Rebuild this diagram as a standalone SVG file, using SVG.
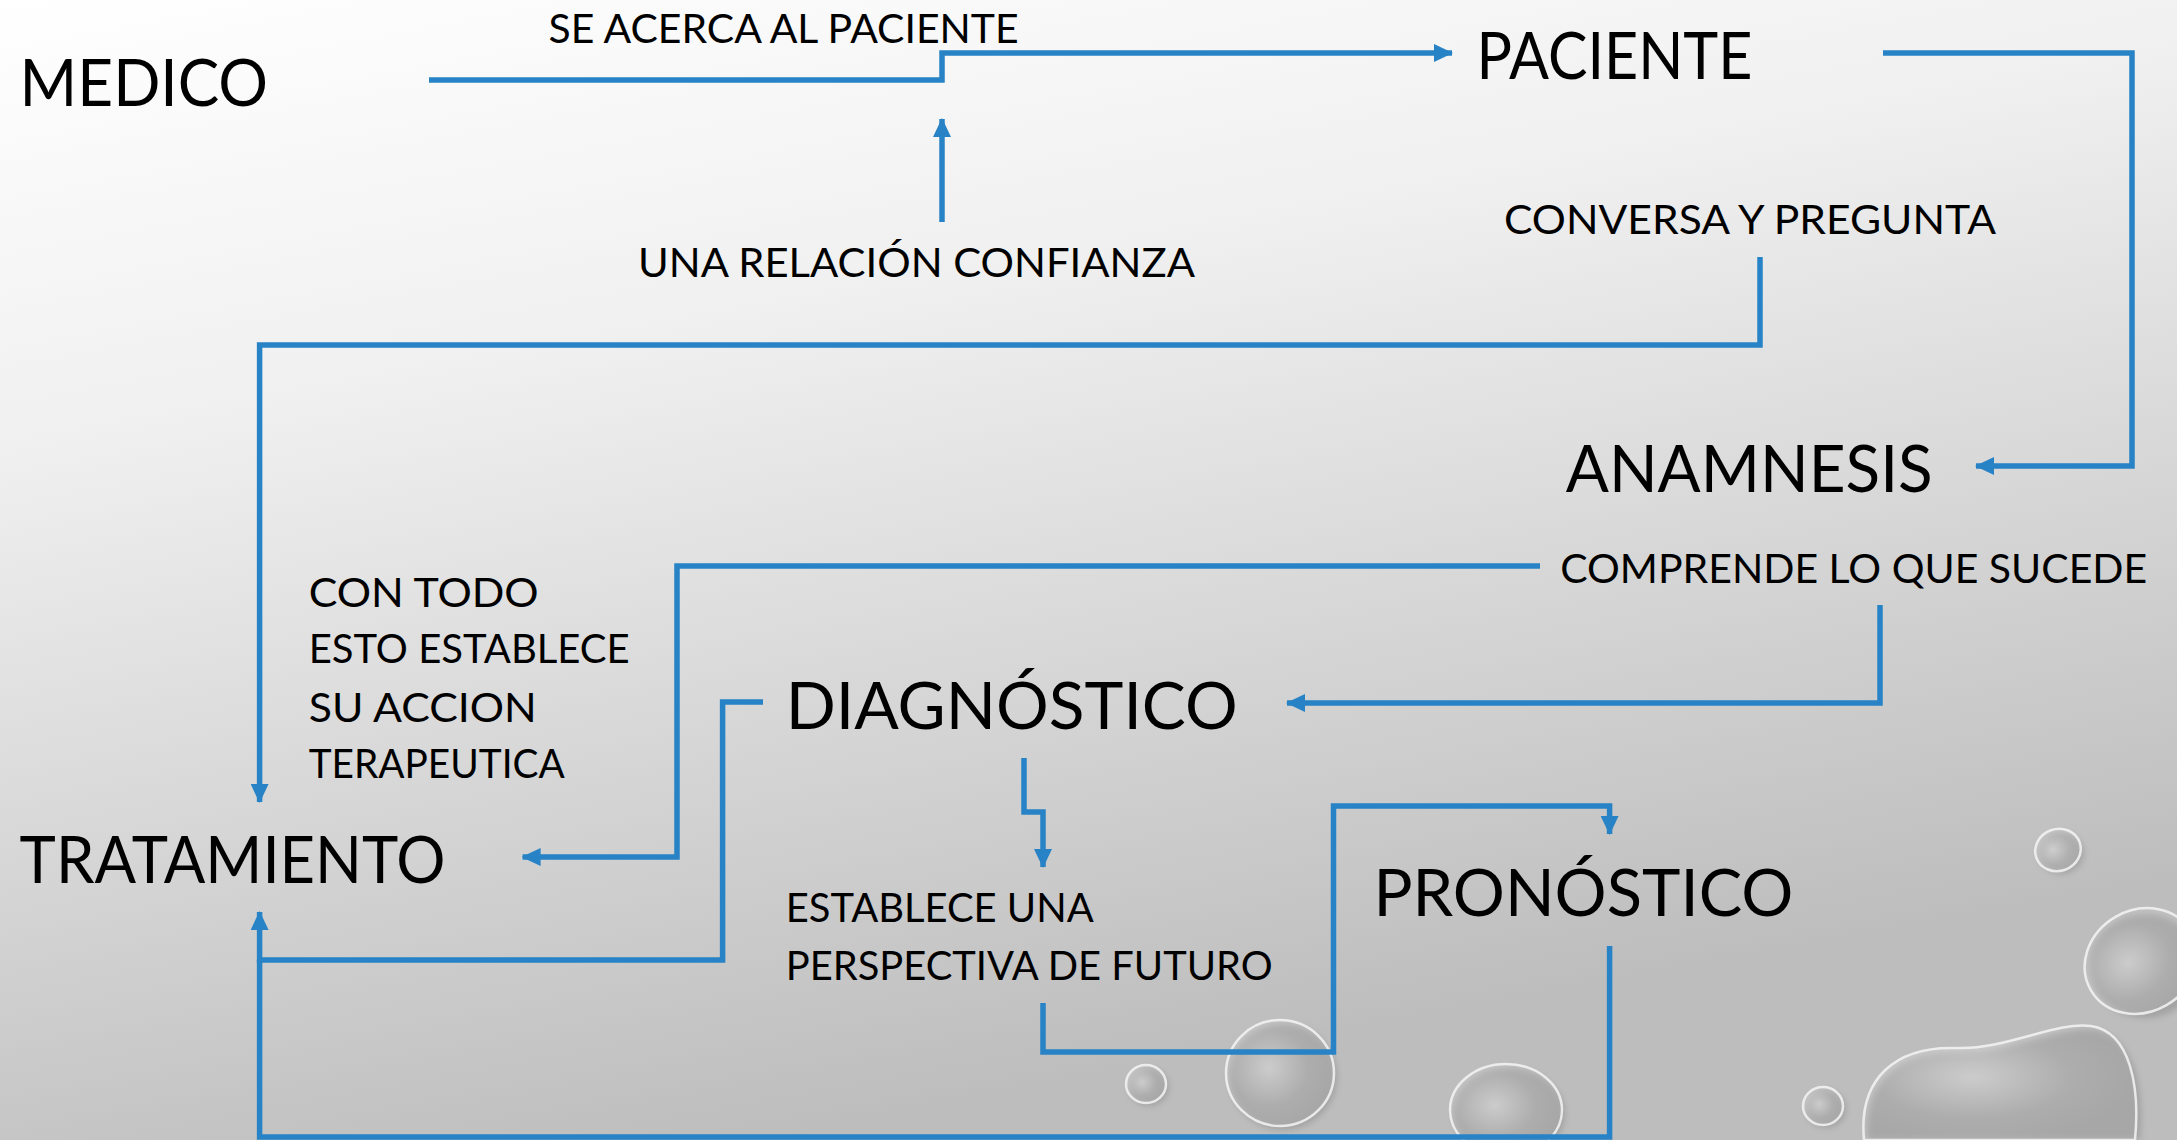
<svg xmlns="http://www.w3.org/2000/svg" width="2177" height="1140" viewBox="0 0 2177 1140">
<style>
.t{font-family:Lato,"Noto Sans","Liberation Sans",sans-serif;fill:#000}
.big{font-size:66px}
.sm{font-size:41px}
.c{fill:none;stroke:#2783C5;stroke-width:5.5;stroke-linejoin:miter}
.a{marker-end:url(#arr)}
.drop{fill:url(#dropFill);stroke:#f4f4f4;stroke-width:2.5;stroke-opacity:.85}
.sh{fill:#000;fill-opacity:.14;filter:url(#blur)}
</style>
<defs>
<linearGradient id="bg" x1="0" y1="0" x2="0.35" y2="1">
<stop offset="0" stop-color="#ffffff"/>
<stop offset="0.35" stop-color="#f0f0f0"/>
<stop offset="1" stop-color="#bdbdbd"/>
</linearGradient>
<radialGradient id="dropFill" cx="0.4" cy="0.45" r="0.6">
<stop offset="0" stop-color="#ffffff" stop-opacity=".45"/>
<stop offset="0.6" stop-color="#ffffff" stop-opacity=".12"/>
<stop offset="1" stop-color="#ffffff" stop-opacity=".05"/>
</radialGradient>
<filter id="blur" x="-20%" y="-20%" width="140%" height="140%"><feGaussianBlur stdDeviation="3"/></filter>
<marker id="arr" viewBox="0 0 19 18" refX="18" refY="9" markerWidth="19" markerHeight="18" orient="auto" markerUnits="userSpaceOnUse">
<path d="M0,0 L19,9 L0,18 z" fill="#2783C5"/>
</marker>
</defs>
<rect width="2177" height="1140" fill="url(#bg)"/>
<g id="droplets">
<ellipse class="sh" cx="2061" cy="853" rx="23" ry="21"/>
<ellipse class="drop" cx="2058" cy="850" rx="23" ry="21" transform="rotate(-20 2058 850)"/>
<ellipse class="sh" cx="2145" cy="966" rx="56" ry="52"/>
<ellipse class="drop" cx="2141" cy="961" rx="58" ry="51" transform="rotate(-30 2141 961)"/>
<ellipse class="sh" cx="1826" cy="1109" rx="20" ry="19"/>
<ellipse class="drop" cx="1823" cy="1106" rx="20" ry="19"/>
<path class="sh" d="M1868,1140 C1862,1080 1900,1050 1960,1052 C2010,1054 2060,1025 2095,1030 C2135,1036 2145,1090 2140,1140 Z"/>
<path class="drop" d="M1864,1140 C1858,1078 1896,1046 1956,1048 C2006,1050 2056,1021 2091,1026 C2131,1032 2140,1088 2135,1140 Z"/>
<ellipse class="sh" cx="1283" cy="1077" rx="54" ry="53"/>
<ellipse class="drop" cx="1280" cy="1073" rx="54" ry="53"/>
<ellipse class="sh" cx="1149" cy="1087" rx="20" ry="19"/>
<ellipse class="drop" cx="1146" cy="1084" rx="20" ry="19"/>
<ellipse class="sh" cx="1509" cy="1114" rx="56" ry="46"/>
<ellipse class="drop" cx="1506" cy="1110" rx="56" ry="46"/>
</g>
<g id="connectors">
<path class="c a" d="M429,80 H942 V53 H1452"/>
<path class="c a" d="M942,222 V119"/>
<path class="c a" d="M1883,53 H2132 V466 H1976"/>
<path class="c a" d="M1760,257 V345 H259.6 V802"/>
<path class="c a" d="M1540,566 H677 V857 H522.6"/>
<path class="c a" d="M1880,605 V703 H1287"/>
<path class="c a" d="M763,702 H722.6 V960 H259.6 V912"/>
<path class="c" d="M1609.6,946 V1137 H259.6 V960"/>
<path class="c a" d="M1024,758 V812 H1043 V867"/>
<path class="c a" d="M1043,1003 V1052 H1333.5 V806 H1609.6 V834"/>
</g>
<g id="medico"><text class="t big" x="19.6" y="106" textLength="248.5" lengthAdjust="spacingAndGlyphs">MEDICO</text></g>
<g id="paciente"><text class="t big" x="1476.4" y="79.3" textLength="276" lengthAdjust="spacingAndGlyphs">PACIENTE</text></g>
<g id="anamnesis"><text class="t big" x="1565.7" y="491.7" textLength="367" lengthAdjust="spacingAndGlyphs">ANAMNESIS</text></g>
<g id="diagnostico"><text class="t big" x="785.7" y="729.3" textLength="452" lengthAdjust="spacingAndGlyphs">DIAGNÓSTICO</text></g>
<g id="tratamiento"><text class="t big" x="19.6" y="883.3" textLength="426" lengthAdjust="spacingAndGlyphs">TRATAMIENTO</text></g>
<g id="pronostico"><text class="t big" x="1373.4" y="916" textLength="420" lengthAdjust="spacingAndGlyphs">PRONÓSTICO</text></g>
<g id="labels">
<text class="t sm" x="548.6" y="43.3" textLength="470" lengthAdjust="spacingAndGlyphs">SE ACERCA AL PACIENTE</text>
<text class="t sm" x="638" y="276.7" textLength="557" lengthAdjust="spacingAndGlyphs">UNA RELACIÓN CONFIANZA</text>
<text class="t sm" x="1504" y="234.3" textLength="492" lengthAdjust="spacingAndGlyphs">CONVERSA Y PREGUNTA</text>
<text class="t sm" x="1560.2" y="582.7" textLength="587" lengthAdjust="spacingAndGlyphs">COMPRENDE LO QUE SUCEDE</text>
<text class="t sm" x="308.7" y="606.7" textLength="230" lengthAdjust="spacingAndGlyphs">CON TODO</text>
<text class="t sm" x="308.7" y="663" textLength="321" lengthAdjust="spacingAndGlyphs">ESTO ESTABLECE</text>
<text class="t sm" x="308.7" y="721.7" textLength="228" lengthAdjust="spacingAndGlyphs">SU ACCION</text>
<text class="t sm" x="308.7" y="778.3" textLength="256" lengthAdjust="spacingAndGlyphs">TERAPEUTICA</text>
<text class="t sm" x="785.7" y="921.7" textLength="308" lengthAdjust="spacingAndGlyphs">ESTABLECE UNA</text>
<text class="t sm" x="785.7" y="980" textLength="487" lengthAdjust="spacingAndGlyphs">PERSPECTIVA DE FUTURO</text>
</g>
</svg>
